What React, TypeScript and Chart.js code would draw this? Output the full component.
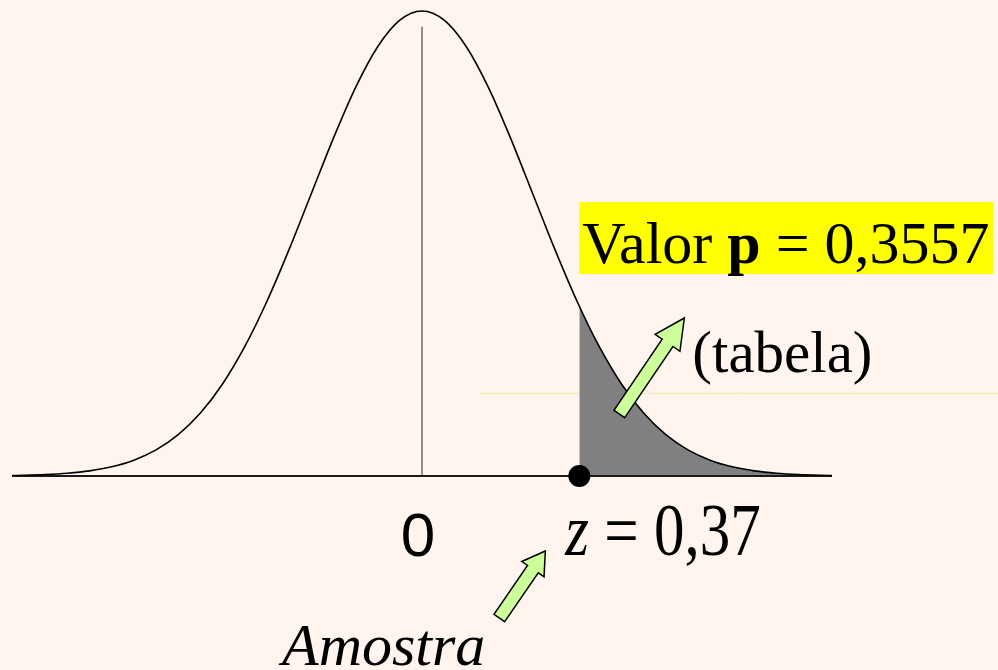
import { useEffect, useRef } from "react";
import { Chart, registerables } from "chart.js";

Chart.register(...registerables);

// Standard normal density (relative to the peak), read at these x positions (in sd units of the drawing)
const curveX = [
  -3.7, -3.6, -3.4, -3.2, -3.0, -2.8, -2.6, -2.4, -2.2, -2.0, -1.8, -1.6, -1.4, -1.2, -1.0, -0.8, -0.6, -0.4, -0.2,
  0,
  0.2, 0.4, 0.6, 0.8, 1.0, 1.2, 1.4, 1.6, 1.8, 2.0, 2.2, 2.4, 2.6, 2.8, 3.0, 3.2, 3.4, 3.6, 3.7,
];
const curveY = [
  0.00106, 0.00153, 0.00309, 0.00598, 0.01111, 0.01984, 0.03405, 0.05613, 0.08892, 0.13534, 0.1979, 0.27804, 0.37531,
  0.48675, 0.60653, 0.72615, 0.83527, 0.92312, 0.9802,
  1,
  0.9802, 0.92312, 0.83527, 0.72615, 0.60653, 0.48675, 0.37531, 0.27804, 0.1979, 0.13534, 0.08892, 0.05613, 0.03405,
  0.01984, 0.01111, 0.00598, 0.00309, 0.00153, 0.00106,
];

// Shaded right tail (p-value area), starting at the sample's z mark
const tailX = [1.42, 1.6, 1.8, 2.0, 2.2, 2.4, 2.6, 2.8, 3.0, 3.2, 3.4, 3.6, 3.7];
const tailY = [0.36494, 0.27804, 0.1979, 0.13534, 0.08892, 0.05613, 0.03405, 0.01984, 0.01111, 0.00598, 0.00309, 0.00153, 0.00106];

const zMark = 1.42; // where the sample point is drawn
const meanLine = [0, 0.966]; // x and top of the vertical line at the mean
const axisRange = [-3.7, 3.7];
const guideLine = [0.523, 5.2, 0.178]; // faint horizontal guide: x from, x to, y

const labelZero = "0";
const labelZVar = "z";
const labelZRest = " = 0,37";
const labelValor = "Valor ";
const labelP = "p";
const labelValue = " = 0,3557";
const labelTabela = "(tabela)";
const labelAmostra = "Amostra";

const BG = "#fff5ee";
const SERIF = '"Liberation Serif", "Times New Roman", serif';
const SANS = '"Liberation Sans", Arial, sans-serif';

function drawArrow(ctx: CanvasRenderingContext2D, tx: number, ty: number, px: number, py: number, w: number, hw: number, hl: number) {
  const dx = px - tx;
  const dy = py - ty;
  const len = Math.hypot(dx, dy);
  const ux = dx / len;
  const uy = dy / len;
  const nx = -uy;
  const ny = ux;
  const bx = px - ux * hl;
  const by = py - uy * hl;
  ctx.beginPath();
  ctx.moveTo(tx + nx * w / 2, ty + ny * w / 2);
  ctx.lineTo(bx + nx * w / 2, by + ny * w / 2);
  ctx.lineTo(bx + nx * hw / 2, by + ny * hw / 2);
  ctx.lineTo(px, py);
  ctx.lineTo(bx - nx * hw / 2, by - ny * hw / 2);
  ctx.lineTo(bx - nx * w / 2, by - ny * w / 2);
  ctx.lineTo(tx - nx * w / 2, ty - ny * w / 2);
  ctx.closePath();
  ctx.fillStyle = "#ccff99";
  ctx.fill();
  ctx.lineWidth = 1.5;
  ctx.strokeStyle = "#000";
  ctx.lineJoin = "miter";
  ctx.stroke();
}

const annotationPlugin = {
  id: "annotations",
  afterDatasetsDraw(chart: any) {
    const ctx: CanvasRenderingContext2D = chart.ctx;
    const xs = chart.scales.x;
    const ys = chart.scales.y;
    const x0 = xs.getPixelForValue(0);
    const xz = xs.getPixelForValue(zMark);
    const base = ys.getPixelForValue(0);
    ctx.save();
    ctx.textBaseline = "alphabetic";
    ctx.textAlign = "left";
    ctx.fillStyle = "#000";

    // Valor p box
    ctx.fillStyle = "#ffff00";
    ctx.fillRect(xz, base - 274, 414, 72);
    ctx.fillStyle = "#000";
    let x = xz + 3;
    const by = base - 213;
    ctx.font = `60px ${SERIF}`;
    ctx.fillText(labelValor, x, by);
    x += ctx.measureText(labelValor).width;
    ctx.font = `bold 60px ${SERIF}`;
    ctx.fillText(labelP, x, by);
    x += ctx.measureText(labelP).width;
    ctx.font = `60px ${SERIF}`;
    ctx.fillText(labelValue, x, by);

    // (tabela)
    ctx.font = `59px ${SERIF}`;
    ctx.fillText(labelTabela, xz + 113, base - 104);

    // z = 0,37
    ctx.save();
    ctx.translate(xz - 14, base + 79);
    ctx.scale(1, 1.2);
    ctx.font = `italic 61px ${SERIF}`;
    ctx.fillText(labelZVar, 0, 0);
    const zw = ctx.measureText(labelZVar).width;
    ctx.font = `61px ${SERIF}`;
    ctx.fillText(labelZRest, zw, 0);
    ctx.restore();

    // 0
    ctx.font = `62px ${SANS}`;
    ctx.textAlign = "center";
    ctx.fillText(labelZero, x0 - 4, base + 80);

    // Amostra
    ctx.textAlign = "left";
    ctx.font = `italic 60px ${SERIF}`;
    ctx.fillText(labelAmostra, x0 - 140, base + 189);

    // arrows
    drawArrow(ctx, xz + 40, base - 62, xz + 105, base - 158, 13, 30, 30);
    drawArrow(ctx, xz - 80, base + 142, xz - 34, base + 75, 13, 27, 22);

    ctx.restore();
  },
};

export default function App() {
  const ref = useRef<HTMLCanvasElement | null>(null);

  useEffect(() => {
    document.body.style.margin = "0";
    document.body.style.background = BG;
    const canvas = ref.current;
    if (!canvas) return;
    const pts = (xa: number[], ya: number[]) => xa.map((v, i) => ({ x: v, y: ya[i] }));
    const chart = new Chart(canvas, {
      type: "scatter",
      data: {
        datasets: [
          {
            // sample point
            data: [{ x: zMark, y: 0 }],
            pointRadius: 11,
            pointBackgroundColor: "#000",
            pointBorderWidth: 0,
            showLine: false,
            clip: false,
          } as any,
          {
            // density curve
            data: pts(curveX, curveY),
            showLine: true,
            borderColor: "#000",
            borderWidth: 1.6,
            pointRadius: 0,
            cubicInterpolationMode: "monotone",
            fill: false,
            clip: false,
          },
          {
            // horizontal axis
            data: [{ x: axisRange[0], y: 0 }, { x: axisRange[1], y: 0 }],
            showLine: true,
            borderColor: "#1a1a1a",
            borderWidth: 2.2,
            pointRadius: 0,
            clip: false,
          },
          {
            // mean line
            data: [{ x: meanLine[0], y: 0 }, { x: meanLine[0], y: meanLine[1] }],
            showLine: true,
            borderColor: "#3a3a3a",
            borderWidth: 1.1,
            pointRadius: 0,
            clip: false,
          },
          {
            // shaded tail
            data: pts(tailX, tailY),
            showLine: true,
            borderWidth: 0,
            borderColor: "rgba(0,0,0,0)",
            backgroundColor: "#808080",
            fill: "origin",
            pointRadius: 0,
            cubicInterpolationMode: "monotone",
            clip: false,
          },
          {
            // faint guide
            data: [{ x: guideLine[0], y: guideLine[2] }, { x: guideLine[1], y: guideLine[2] }],
            showLine: true,
            borderColor: "#f3ec9a",
            borderWidth: 1,
            pointRadius: 0,
            clip: false,
          },
        ],
      },
      options: {
        responsive: false,
        animation: false,
        events: [],
        layout: { padding: { left: 12, right: 166, top: 9, bottom: 194 } },
        scales: {
          x: { type: "linear", min: axisRange[0], max: axisRange[1], display: false },
          y: { type: "linear", min: 0, max: 1, display: false },
        },
        plugins: { legend: { display: false }, tooltip: { enabled: false }, title: { display: false } },
      },
      plugins: [annotationPlugin],
    });
    return () => chart.destroy();
  }, []);

  return (
    <div style={{ position: "fixed", left: 0, top: 0, width: 998, height: 670, background: BG }}>
      <canvas ref={ref} width={998} height={670} style={{ display: "block", width: 998, height: 670 }} />
    </div>
  );
}
